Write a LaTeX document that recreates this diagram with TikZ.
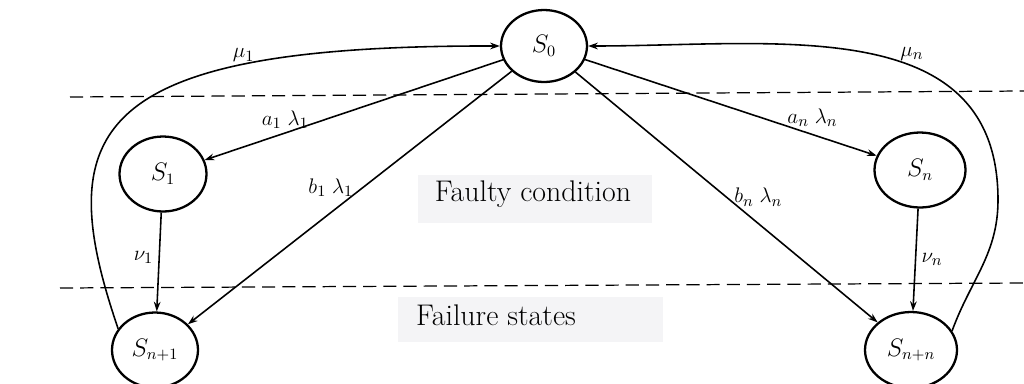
\documentclass[tikz,border=0pt]{standalone}
\usetikzlibrary{arrows.meta,shapes.geometric}
\definecolor{boxgray}{RGB}{244,244,246}
\begin{document}
\begin{tikzpicture}[x=0.02cm,y=-0.02cm,
  state/.style={draw, ellipse, line width=1.3pt, inner sep=0pt, font=\fontsize{13.5}{15}\selectfont},
  trans/.style={line width=0.9pt, -{Stealth[length=5.5pt,width=3.8pt]}},
  lbl/.style={font=\fontsize{12.5}{14}\selectfont, inner sep=1pt},
  sep/.style={dash pattern=on 7.5pt off 4pt, line width=0.7pt},
  region/.style={font=\fontsize{17}{20}\selectfont, inner sep=0pt}]
\useasboundingbox (0,0) rectangle (1024,383);
\fill[white] (0,0) rectangle (1024,383);
\fill[boxgray] (418,175) rectangle (652,223);
\fill[boxgray] (398,297) rectangle (663,342);
\draw[sep] (70,97) -- (1024,91);
\draw[sep] (60,288) -- (1024,283);

\node[region, anchor=base] (faulty) at (533,201) {Faulty condition};
\node[region, anchor=base] (failure) at (496,325) {Failure states};

\node[state, minimum width=1.72cm, minimum height=1.44cm] (S0) at (544,46) {$S_0$};
\node[state, minimum width=1.74cm, minimum height=1.50cm] (S1) at (163,174) {$S_1$};
\node[state, minimum width=1.82cm, minimum height=1.50cm] (Sn) at (920,170) {$S_n$};
\node[state, minimum width=1.72cm, minimum height=1.50cm] (Sn1) at (155,350) {$S_{n+1}$};
\node[state, minimum width=1.84cm, minimum height=1.52cm] (Snn) at (911,350) {$S_{n+n}$};

\draw[trans] (S0) -- node[lbl, pos=.73, above=1pt] {$a_1\;\lambda_1$} (S1);
\draw[trans] (S0) -- node[lbl, pos=.46, left=4pt] {$b_1\;\lambda_1$} (Sn1);
\draw[trans] (S0) -- node[lbl, pos=.78, above=3pt] {$a_n\;\lambda_n$} (Sn);
\draw[trans] (S0) -- node[lbl, pos=.5, right=3pt] {$b_n\;\lambda_n$} (Snn);
\draw[trans] (S1) -- node[lbl, pos=.45, left=2pt] {$\nu_1$} (Sn1);
\draw[trans] (Sn) -- node[lbl, pos=.5, right=2pt] {$\nu_n$} (Snn);
\draw[trans] (Sn1.150) .. controls (50,130) and (90,45) .. node[lbl, pos=.73, above] {$\mu_1$} (S0.west);
\coordinate (rturn) at (998,200);
\draw[trans] (Snn.25) to[out=70,in=-90] (rturn) to[out=90,in=0,looseness=1.1] node[lbl,pos=.42,above right=-1pt] {$\mu_n$} (S0.east);
\end{tikzpicture}
\end{document}
